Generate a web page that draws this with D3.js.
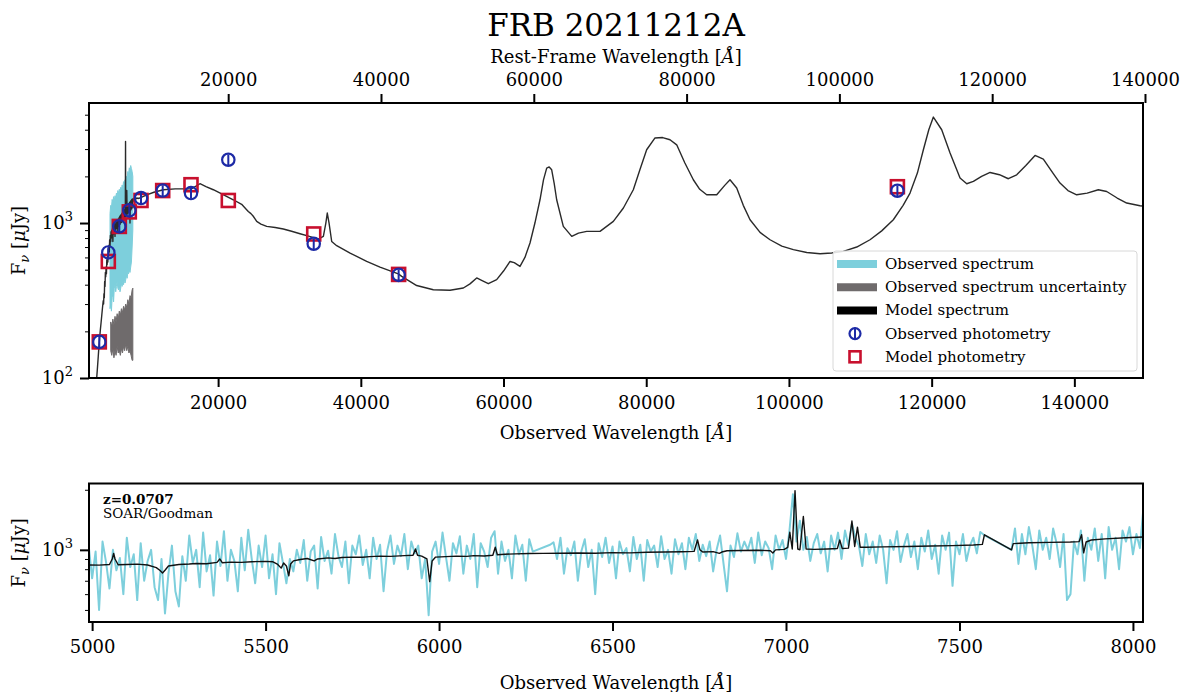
<!DOCTYPE html>
<html><head><meta charset="utf-8">
<script src="https://cdn.jsdelivr.net/npm/d3@7"></script>
<style>
body{margin:0;background:#fff;}
svg text{font-family:"DejaVu Serif",serif;fill:#000;}
</style></head><body>
<svg id="c" width="1184" height="692"></svg>
<script>
// ---------------- data ----------------
const titleText = "FRB 20211212A";
const redshift = 0.0707;

// photometry (observed wavelength [Å], flux [μJy])
const photWave  = [3350, 4612, 6155, 7555, 9195, 12235, 16200, 21430, 33400, 45300, 115200];
const photObs   = [171, 646, 951, 1206, 1450, 1620, 1561, 2560, 735, 463, 1616];
const photErr   = [14, 50, 75, 95, 115, 130, 125, 200, 58, 37, 128];
const photModel = [171, 565, 951, 1180, 1398, 1620, 1767, 1398, 850, 466, 1715];

// model SED spectrum [wavelength, flux]
const modelSED = [
[2985,100],[3100,118],[3200,137],[3300,160],[3400,182],[3500,205],[3600,228],[3700,255],[3800,285],[3900,315],
[3950,300],[4000,350],[4050,330],[4100,420],[4150,390],[4200,480],[4250,450],[4300,520],[4350,470],[4400,580],
[4450,540],[4500,620],[4550,560],[4600,680],[4650,620],[4700,720],[4750,650],[4800,780],[4850,700],[4900,830],
[4950,760],[5000,880],[5050,800],[5100,900],[5150,830],[5200,920],[5250,760],[5300,930],[5350,850],[5400,960],
[5450,870],[5500,980],[5550,820],[5600,990],[5650,900],[5700,1010],[5750,920],[5800,1020],[5850,930],[5900,1050],
[5950,880],[6000,1060],[6050,950],[6100,1080],[6150,960],[6200,1100],[6250,980],[6300,1120],[6350,1000],[6400,1130],
[6450,1010],[6500,1150],[6550,1020],[6600,1170],[6650,1040],[6700,1190],[6750,1060],[6800,1210],[6850,1070],[6900,1230],
[6950,1090],[7000,1250],[7027,3360],[7050,1100],[7100,1270],[7150,1120],[7200,1620],[7250,1140],[7300,1300],[7350,1150],
[7400,1320],[7450,1170],[7500,1340],[7550,1190],[7600,1360],[7650,1000],[7700,1380],[7750,1210],[7800,1400],[7850,1230],
[7900,1420],[7950,1250],[8000,1430],[8100,1380],[8200,1440],[8400,1420],[8600,1450],[8800,1440],
[9000,1450],[10000,1520],[11000,1580],[12320,1640],[14000,1660],[16300,1665],[17460,1793],[18300,1720],[19330,1640],
[20500,1540],[22130,1413],[23300,1320],[24000,1220],[24230,1188],[24600,1150],[24900,1110],[25200,1060],[25410,1024],
[26000,985],[26810,951],[28000,935],[29140,915],[30300,885],[31480,853],[32800,820],[34040,788],[34750,820],[35100,1000],
[35300,1160],[35550,1000],[35920,760],[36620,714],[38500,640],[40820,565],[42690,520],[45260,470],[45730,453],[47830,395],
[50160,371],[52500,368],[54370,381],[55300,405],[56240,442],[57000,425],[57870,406],[59040,431],[60000,490],[60910,565],
[61500,555],[62310,525],[63000,600],[63710,743],[64400,1000],[65110,1413],[65600,1900],[66050,2262],[66400,2300],[66750,2206],
[67100,1800],[67450,1413],[68380,951],[69560,820],[70500,860],[71660,883],[73520,883],[75390,1024],[76800,1250],[78190,1640],
[79100,2200],[80060,2971],[81230,3539],[82300,3560],[83330,3446],[84270,3196],[85400,2450],[86600,1902],[87500,1650],[88470,1522],
[89880,1522],[91000,1750],[91740,1902],[92680,1682],[93600,1300],[94550,1050],[95950,870],[97350,780],[99000,710],[100620,673],
[102500,645],[104360,634],[106000,640],[107620,656],[109500,700],[111360,780],[113000,890],[114630,1050],[116000,1300],[116970,1561],
[118000,2100],[118840,2971],[119600,4000],[120240,4830],[121410,3999],[122580,2831],[123980,1952],[124920,1793],[125850,1855],[127000,2000],
[128190,2120],[129500,2050],[130750,1931],[131920,2048],[133200,2350],[134490,2731],[135650,2586],[137000,2100],[137990,1811],[139100,1620],
[140330,1522],[141800,1560],[143360,1640],[144530,1597],[146000,1450],[147340,1346],[149200,1293],[150000,1285]
];

// observed spectrum envelope shown in the SED panel [wavelength, low, high]
const specBand = [
[4850,280,1150],[4950,300,1300],[5050,270,1250],[5150,330,1420],[5250,350,1350],[5350,310,1480],[5450,380,1400],[5550,400,1500],
[5650,360,1450],[5750,390,1560],[5850,420,1480],[5950,380,1620],[6050,370,1550],[6150,400,1650],[6250,360,1600],[6350,380,1700],
[6450,410,1640],[6550,390,1760],[6650,420,1700],[6750,400,1850],[6850,440,1780],[6950,410,1900],[7050,430,1850],[7150,460,2000],
[7250,440,1950],[7350,480,2150],[7450,470,2050],[7550,500,2270],[7650,480,2200],[7750,520,2350],[7850,560,2250],[7950,700,2150],[8050,900,2000]
];
// uncertainty envelope [wavelength, low, high]
const errBand = [
[4950,150,230],[5100,140,215],[5250,155,240],[5400,135,220],[5550,150,250],[5700,140,230],[5850,160,260],[6000,145,240],
[6150,150,270],[6300,140,255],[6450,155,280],[6600,145,265],[6750,160,290],[6900,150,275],[7050,165,300],[7200,150,285],
[7350,160,320],[7500,145,300],[7650,150,340],[7800,140,330],[7950,130,370],[8050,130,380]
];

// zoomed panel: observed spectrum on a 10 Å grid starting at 4990 Å (null = gap)
const zoomStart = 4990, zoomStep = 10;
const zoomObs = [
1050,720,980,500,1100,870,640,1000,790,910,
600,1150,820,950,560,1080,700,880,1000,650,
560,900,480,760,1050,620,520,930,700,1180,
860,1000,650,1220,780,940,590,1100,830,1240,
700,1000,880,620,1150,790,1260,900,680,1050,
820,1180,720,950,600,1080,860,680,900,780,
1000,860,1120,700,980,1050,640,1160,880,990,
760,1200,930,820,1100,680,1050,950,1180,840,
1000,720,1150,900,1060,620,980,1180,850,1050,
930,1200,800,1100,960,1050,720,900,470,980,
1100,850,1220,920,700,1080,960,1170,760,1050,
900,1200,650,1080,980,820,1150,1240,760,1100,
880,1000,720,1180,950,1060,700,1130,980,null,
null,null,null,1060,1090,900,1150,760,1020,940,
1100,700,980,1130,820,1000,600,1080,920,1150,
860,1040,720,1100,950,1020,780,1160,900,1060,
700,1120,980,1050,820,1170,900,1000,760,1130,
950,1080,800,1150,1000,1200,880,1060,930,1100,
780,1000,1180,850,620,1050,920,1210,980,1100,
1000,1150,860,1220,940,1100,1020,800,1180,1000,
1120,900,1250,1900,1100,1400,1000,1160,880,1080,
1200,960,1100,780,1180,1000,1220,900,1250,1050,
1350,1150,1050,830,1200,950,1100,860,1180,1000,
680,1120,1000,1240,870,1050,1200,920,1100,800,
1150,980,1250,900,1060,760,1180,1000,1220,660,
1100,950,1200,880,1050,1150,960,1230,1190,null,
null,null,null,null,null,null,1000,1280,850,1200,
950,1300,1050,800,1250,1000,1150,900,1280,1080,
820,1200,560,600,1100,950,1250,700,1150,1000,
1280,880,1200,720,1300,1000,1150,800,1250,1100,
1300,950,1200,1020,1600
];
// zoomed panel: model spectrum [wavelength, flux]
const zoomModel = [
[4990,840],[5020,838],[5050,845],[5058,900],[5062,960],[5066,900],[5075,842],[5100,845],[5130,848],[5160,840],
[5185,815],[5195,790],[5203,765],[5210,790],[5220,830],[5250,845],[5280,850],[5300,855],[5330,852],[5360,865],
[5368,900],[5375,862],[5400,868],[5430,865],[5460,872],[5500,875],[5520,872],[5535,845],[5545,810],[5552,860],
[5560,830],[5567,742],[5572,850],[5580,880],[5600,895],[5620,905],[5640,880],[5650,900],[5680,912],[5700,905],
[5720,915],[5750,920],[5780,918],[5800,925],[5830,930],[5860,928],[5900,935],[5925,940],[5932,1010],[5938,940],
[5950,930],[5965,900],[5973,693],[5980,880],[5990,920],[6020,925],[6050,930],[6080,928],[6100,935],[6130,932],
[6155,940],[6162,1030],[6168,945],[6190,950],[6220,955],[6260,958],[6300,960],[6350,962],[6400,965],[6450,962],
[6500,968],[6550,966],[6600,972],[6650,975],[6700,978],[6735,982],[6745,1120],[6752,1000],[6760,975],[6790,980],
[6808,960],[6815,975],[6830,990],[6870,992],[6920,995],[6955,990],[6962,965],[6970,1000],[6995,1005],[7005,1030],
[7011,1225],[7018,1010],[7026,1980],[7034,1010],[7040,1000],[7050,1470],[7058,1010],[7080,1005],[7120,1010],[7148,1015],
[7155,1120],[7162,1015],[7180,1020],[7190,1395],[7198,1040],[7206,1300],[7214,1030],[7230,1030],[7280,1035],[7350,1040],
[7420,1045],[7480,1050],[7540,1058],[7566,1065],[7572,1190],[7650,1000],[7655,1075],[7700,1085],[7760,1090],[7820,1095],
[7845,1100],[7852,1190],[7858,966],[7865,1095],[7880,1120],[7920,1135],[7980,1150],[8030,1160]
];

const obsTicks = [20000, 40000, 60000, 80000, 100000, 120000, 140000];
const restTicks = [20000, 40000, 60000, 80000, 100000, 120000, 140000];
const zoomTicks = [5000, 5500, 6000, 6500, 7000, 7500, 8000];
const legendLabels = ["Observed spectrum", "Observed spectrum uncertainty", "Model spectrum", "Observed photometry", "Model photometry"];
const annotZ = "z=0.0707", annotInst = "SOAR/Goodman";

// ---------------- colours / layout ----------------
const C_CYAN = "#7dcfdc", C_GRAY = "#6f6b6c", C_MODEL = "#2a2a2a", C_BLUE = "#1d2aa6", C_RED = "#c8102e";
const P1 = {l:89, r:1143, t:103, b:378};
const P2 = {l:89, r:1143, t:483.5, b:622};

const svg = d3.select("#c");
const defs = svg.append("defs");
defs.append("clipPath").attr("id","clip1").append("rect").attr("x",P1.l).attr("y",P1.t).attr("width",P1.r-P1.l).attr("height",P1.b-P1.t);
defs.append("clipPath").attr("id","clip2").append("rect").attr("x",P2.l).attr("y",P2.t).attr("width",P2.r-P2.l).attr("height",P2.b-P2.t);

const xTop = d3.scaleLinear().domain([1906, 149620]).range([P1.l, P1.r]);
const xRest = d3.scaleLinear().domain([1906/(1+redshift), 149620/(1+redshift)]).range([P1.l, P1.r]);
const yTop = d3.scaleLog().domain([100, 5950]).range([P1.b, P1.t]);
const xBot = d3.scaleLinear().domain([4991, 8029]).range([P2.l, P2.r]);
const yBot = d3.scaleLog().domain([435, 2150]).range([P2.b, P2.t]);

function styleAxis(g, fs){
  g.select(".domain").remove();
  g.selectAll(".tick line").attr("stroke","#000").attr("stroke-width",2);
  g.selectAll(".tick text").attr("font-size",fs).attr("fill","#000").attr("font-family","DejaVu Serif");
}
function minorTicks(scale, lo, hi){
  const out=[];
  for(let e=Math.floor(Math.log10(lo)); e<=Math.ceil(Math.log10(hi)); e++){
    for(let k=2;k<=9;k++){ const v=k*Math.pow(10,e); if(v>=lo && v<=hi) out.push(v); }
  }
  return out;
}
function supLabel(g, x, y, base, exp){
  const t = g.append("text").attr("x",x).attr("y",y).attr("text-anchor","end").attr("font-size",18);
  t.append("tspan").text(base);
  t.append("tspan").attr("dy",-8).attr("font-size",13).text(exp);
}
function yLabel(cx, cy){
  const t = svg.append("text").attr("transform",`translate(${cx},${cy}) rotate(-90)`).attr("text-anchor","middle").attr("font-size",18);
  t.append("tspan").text("F");
  t.append("tspan").attr("font-size",13).attr("dy",4).attr("font-style","italic").text("ν");
  t.append("tspan").attr("dy",-4).text(" [");
  t.append("tspan").attr("font-style","italic").text("μ");
  t.append("tspan").text("Jy]");
}
function wlLabel(cx, y, prefix){
  const t = svg.append("text").attr("x",cx).attr("y",y).attr("text-anchor","middle").attr("font-size",18);
  t.append("tspan").text(prefix + " [");
  t.append("tspan").attr("font-style","italic").text("Å");
  t.append("tspan").text("]");
}

// ---------------- title ----------------
svg.append("text").attr("x",616).attr("y",36).attr("text-anchor","middle").attr("font-size",31).text(titleText);
wlLabel(616, 63, "Rest-Frame Wavelength");

// ---------------- top panel ----------------
const g1 = svg.append("g").attr("clip-path","url(#clip1)");
g1.append("path").datum(specBand)
  .attr("d", d3.area().x(d=>xTop(d[0])).y0(d=>yTop(d[1])).y1(d=>yTop(d[2])))
  .attr("fill",C_CYAN).attr("stroke",C_CYAN).attr("stroke-width",1);
g1.append("path").datum(errBand)
  .attr("d", d3.area().x(d=>xTop(d[0])).y0(d=>yTop(d[1])).y1(d=>yTop(d[2])))
  .attr("fill",C_GRAY).attr("stroke",C_GRAY).attr("stroke-width",1);
g1.append("path").datum(modelSED)
  .attr("d", d3.line().x(d=>xTop(d[0])).y(d=>yTop(d[1])))
  .attr("fill","none").attr("stroke",C_MODEL).attr("stroke-width",1.4).attr("stroke-linejoin","round");

// model photometry (squares)
const sq = 13;
g1.selectAll("rect.mp").data(photWave).enter().append("rect").attr("class","mp")
  .attr("x",(d)=>xTop(d)-sq/2).attr("y",(d,i)=>yTop(photModel[i])-sq/2)
  .attr("width",sq).attr("height",sq).attr("fill","none").attr("stroke",C_RED).attr("stroke-width",2.6);
// observed photometry (circles with error bars)
g1.selectAll("line.eb").data(photWave).enter().append("line").attr("class","eb")
  .attr("x1",d=>xTop(d)).attr("x2",d=>xTop(d))
  .attr("y1",(d,i)=>yTop(photObs[i]-photErr[i])).attr("y2",(d,i)=>yTop(photObs[i]+photErr[i]))
  .attr("stroke",C_BLUE).attr("stroke-width",2);
g1.selectAll("circle.op").data(photWave).enter().append("circle").attr("class","op")
  .attr("cx",d=>xTop(d)).attr("cy",(d,i)=>yTop(photObs[i])).attr("r",6.2)
  .attr("fill","none").attr("stroke",C_BLUE).attr("stroke-width",2.2);

// axes top panel
const ax1 = svg.append("g").attr("transform",`translate(0,${P1.b})`)
  .call(d3.axisBottom(xTop).tickValues(obsTicks).tickSize(9).tickPadding(9).tickFormat(d3.format("d")));
styleAxis(ax1, 18);
const ax1t = svg.append("g").attr("transform",`translate(0,${P1.t})`)
  .call(d3.axisTop(xRest).tickValues(restTicks).tickSize(9).tickPadding(8).tickFormat(d3.format("d")));
styleAxis(ax1t, 18);
const ay1 = svg.append("g").attr("transform",`translate(${P1.l},0)`)
  .call(d3.axisLeft(yTop).tickValues([100,1000]).tickSize(9).tickFormat(()=>""));
styleAxis(ay1, 18);
const ay1m = svg.append("g").attr("transform",`translate(${P1.l},0)`)
  .call(d3.axisLeft(yTop).tickValues(minorTicks(yTop,100,5950).filter(v=>v!==1000)).tickSize(4).tickFormat(()=>""));
ay1m.select(".domain").remove();
ay1m.selectAll(".tick line").attr("stroke","#000").attr("stroke-width",1);
supLabel(svg, 73, yTop(1000)+6, "10", "3");
supLabel(svg, 73, yTop(100)+6, "10", "2");
yLabel(25, (P1.t+P1.b)/2);
wlLabel(616, 439, "Observed Wavelength");

svg.append("rect").attr("x",P1.l).attr("y",P1.t).attr("width",P1.r-P1.l).attr("height",P1.b-P1.t)
  .attr("fill","none").attr("stroke","#000").attr("stroke-width",2);

// legend
const lg = svg.append("g");
lg.append("rect").attr("x",833).attr("y",251).attr("width",304).attr("height",120).attr("rx",3)
  .attr("fill","#fff").attr("fill-opacity",0.85).attr("stroke","#d8d8d8").attr("stroke-width",1);
const rowY = i => 264 + i*23.2;
[C_CYAN, C_GRAY, "#000"].forEach((c,i)=>{
  lg.append("line").attr("x1",837).attr("x2",877).attr("y1",rowY(i)).attr("y2",rowY(i)).attr("stroke",c).attr("stroke-width",8);
});
lg.append("line").attr("x1",855).attr("x2",855).attr("y1",rowY(3)-6).attr("y2",rowY(3)+6).attr("stroke",C_BLUE).attr("stroke-width",2);
lg.append("circle").attr("cx",855).attr("cy",rowY(3)).attr("r",5.5).attr("fill","none").attr("stroke",C_BLUE).attr("stroke-width",2.2);
lg.append("rect").attr("x",849.5).attr("y",rowY(4)-5.5).attr("width",11).attr("height",11).attr("fill","none").attr("stroke",C_RED).attr("stroke-width",2.6);
legendLabels.forEach((s,i)=>{
  lg.append("text").attr("x",885).attr("y",rowY(i)+5).attr("font-size",15).text(s);
});

// ---------------- bottom panel ----------------
const zoomPts = zoomObs.map((v,i)=>[zoomStart+i*zoomStep, v]).filter(d=>d[1]!==null);
const g2 = svg.append("g").attr("clip-path","url(#clip2)");
g2.append("path").datum(zoomPts)
  .attr("d", d3.line().x(d=>xBot(d[0])).y(d=>yBot(d[1])))
  .attr("fill","none").attr("stroke",C_CYAN).attr("stroke-width",2).attr("stroke-linejoin","round");
g2.append("path").datum(zoomModel)
  .attr("d", d3.line().x(d=>xBot(d[0])).y(d=>yBot(d[1])))
  .attr("fill","none").attr("stroke","#111").attr("stroke-width",1.4).attr("stroke-linejoin","round");

const ax2 = svg.append("g").attr("transform",`translate(0,${P2.b})`)
  .call(d3.axisBottom(xBot).tickValues(zoomTicks).tickSize(9).tickPadding(9).tickFormat(d3.format("d")));
styleAxis(ax2, 18);
const ay2 = svg.append("g").attr("transform",`translate(${P2.l},0)`)
  .call(d3.axisLeft(yBot).tickValues([1000]).tickSize(9).tickFormat(()=>""));
styleAxis(ay2, 18);
const ay2m = svg.append("g").attr("transform",`translate(${P2.l},0)`)
  .call(d3.axisLeft(yBot).tickValues(minorTicks(yBot,435,2150).filter(v=>v!==1000)).tickSize(4).tickFormat(()=>""));
ay2m.select(".domain").remove();
ay2m.selectAll(".tick line").attr("stroke","#000").attr("stroke-width",1);
supLabel(svg, 73, yBot(1000)+6, "10", "3");
yLabel(25, (P2.t+P2.b)/2);
wlLabel(616, 689, "Observed Wavelength");

svg.append("text").attr("x",103).attr("y",504).attr("font-size",13.5).attr("font-weight","bold").text(annotZ);
svg.append("text").attr("x",103).attr("y",518).attr("font-size",13.5).attr("fill","#222").text(annotInst);

svg.append("rect").attr("x",P2.l).attr("y",P2.t).attr("width",P2.r-P2.l).attr("height",P2.b-P2.t)
  .attr("fill","none").attr("stroke","#000").attr("stroke-width",2);
</script>
</body></html>
